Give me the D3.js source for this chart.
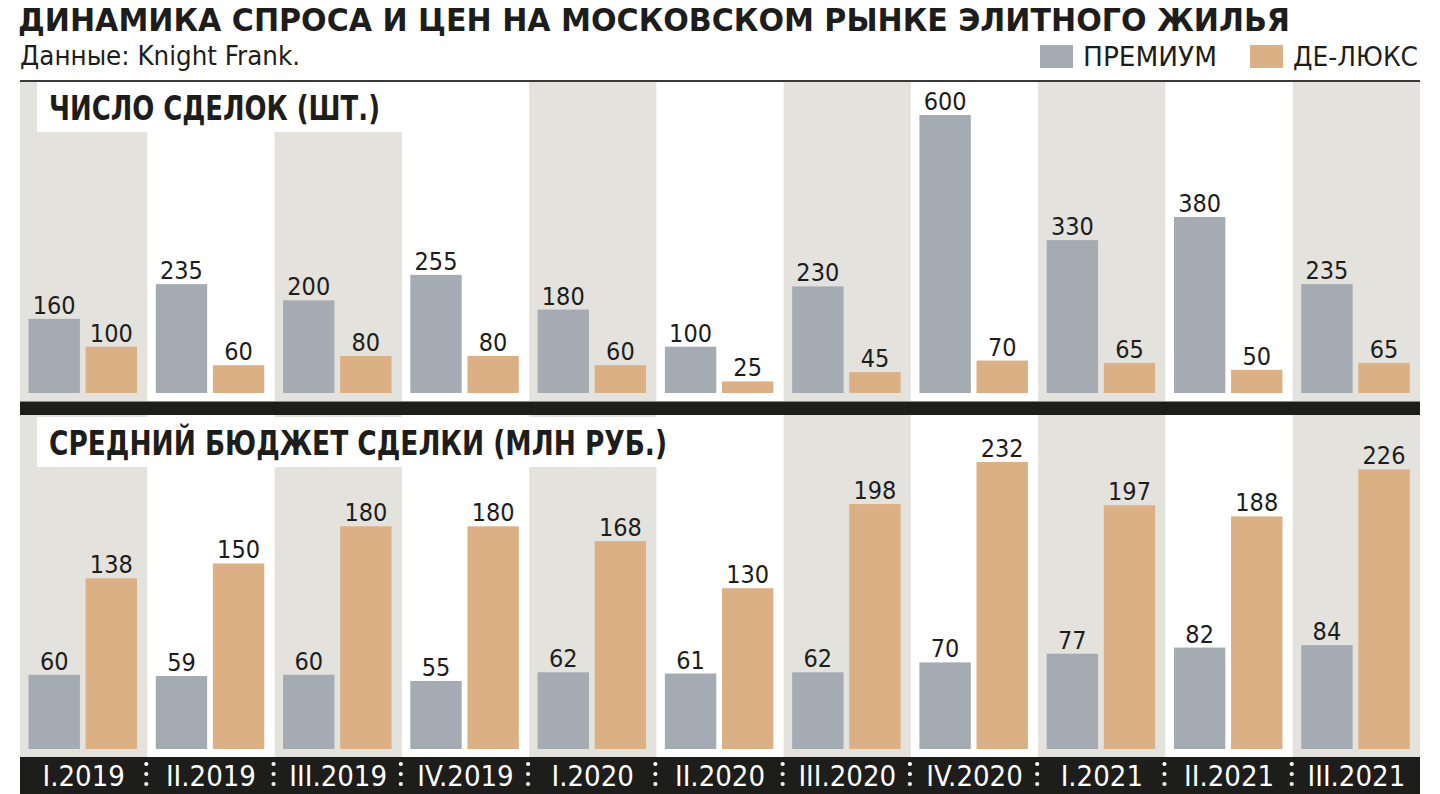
<!DOCTYPE html>
<html>
<head>
<meta charset="utf-8">
<script src="https://cdn.jsdelivr.net/npm/d3@7"></script>
<style>
  html, body { margin: 0; padding: 0; background: #ffffff; }
  svg { display: block; }
</style>
</head>
<body>
<svg id="chart" width="1440" height="794"></svg>
<script>
// ---- data ----
const quarters = ["I.2019", "II.2019", "III.2019", "IV.2019", "I.2020", "II.2020", "III.2020", "IV.2020", "I.2021", "II.2021", "III.2021"];
const seriesNames = ["ПРЕМИУМ", "ДЕ-ЛЮКС"];
const dealsPremium = [160, 235, 200, 255, 180, 100, 230, 600, 330, 380, 235];
const dealsDeluxe  = [100, 60, 80, 80, 60, 25, 45, 70, 65, 50, 65];
const budgetPremium = [60, 59, 60, 55, 62, 61, 62, 70, 77, 82, 84];
const budgetDeluxe  = [138, 150, 180, 180, 168, 130, 198, 232, 197, 188, 226];
const titleText = "ДИНАМИКА СПРОСА И ЦЕН НА МОСКОВСКОМ РЫНКЕ ЭЛИТНОГО ЖИЛЬЯ";
const sourceText = "Данные: Knight Frank.";
const panelTitles = ["ЧИСЛО СДЕЛОК (ШТ.)", "СРЕДНИЙ БЮДЖЕТ СДЕЛКИ (МЛН РУБ.)"];

// ---- style ----
const C = {
  band: "#e3e2dd", premium: "#a4abb2", deluxe: "#dbb084",
  ink: "#1d1d1b", black: "#1d1d1b", rule: "#3a3a38"
};
const seriesColors = [C.premium, C.deluxe];
const condensed = "'DejaVu Sans Condensed', 'Liberation Sans Narrow', sans-serif";
const narrowBold = "'Liberation Sans Narrow', 'DejaVu Sans Condensed', sans-serif";

const svg = d3.select("#chart");
const L = 20, R = 1420;

const x = d3.scaleBand().domain(quarters).range([L, R]).paddingInner(0).paddingOuter(0);
const xs = d3.scaleBand().domain(seriesNames).range([8.5, 117]).paddingInner(0.1).paddingOuter(0);

const panels = [
  { top: 82, bottom: 402, base: 393, max: 600, maxY: 115, data: [dealsPremium, dealsDeluxe],
    title: panelTitles[0], box: { x: 37, y: 82, w: 365, h: 50 }, ty: 120, tlen: 331 },
  { top: 415, bottom: 757, base: 749, max: 232, maxY: 462, data: [budgetPremium, budgetDeluxe],
    title: panelTitles[1], box: { x: 37, y: 417, w: 660, h: 50 }, ty: 455, tlen: 618 }
];

panels.forEach(p => {
  const y = d3.scaleLinear().domain([0, p.max]).range([p.base, p.maxY]);
  const g = svg.append("g");
  // alternating bands
  g.selectAll("rect.band").data(quarters.filter((q, i) => i % 2 === 0)).join("rect")
    .attr("class", "band")
    .attr("x", d => x(d)).attr("y", p.top)
    .attr("width", x.bandwidth()).attr("height", p.bottom - p.top)
    .attr("fill", C.band);
  // label box
  g.append("rect").attr("x", p.box.x).attr("y", p.box.y).attr("width", p.box.w).attr("height", p.box.h).attr("fill", "#fff");
  g.append("text").attr("x", 49).attr("y", p.ty)
    .attr("font-family", narrowBold).attr("font-weight", "bold").attr("font-size", 33)
    .attr("fill", C.ink).attr("textLength", p.tlen).attr("lengthAdjust", "spacingAndGlyphs")
    .text(p.title);
  // bars
  seriesNames.forEach((s, si) => {
    const vals = p.data[si];
    const rows = quarters.map((q, i) => ({ q, v: vals[i] }));
    g.selectAll("rect.bar" + si).data(rows).join("rect")
      .attr("class", "bar" + si)
      .attr("x", d => x(d.q) + xs(s)).attr("width", xs.bandwidth())
      .attr("y", d => y(d.v)).attr("height", d => y(0) - y(d.v))
      .attr("fill", seriesColors[si]);
    g.selectAll("text.val" + si).data(rows).join("text")
      .attr("class", "val" + si)
      .attr("x", d => x(d.q) + xs(s) + xs.bandwidth() / 2)
      .attr("y", d => y(d.v) - 5)
      .attr("text-anchor", "middle")
      .attr("font-family", condensed).attr("font-size", 25)
      .attr("fill", C.ink)
      .text(d => d.v);
  });
});

// top rule
svg.append("line").attr("x1", L).attr("x2", R).attr("y1", 81).attr("y2", 81)
  .attr("stroke", C.rule).attr("stroke-width", 2);
// separator
svg.append("rect").attr("x", L).attr("y", 402).attr("width", R - L).attr("height", 13).attr("fill", C.black);
svg.append("line").attr("x1", L).attr("x2", R).attr("y1", 401.5).attr("y2", 401.5).attr("stroke", "#8a8a88").attr("stroke-width", 1);
// bottom axis bar
svg.append("rect").attr("x", L).attr("y", 757).attr("width", R - L).attr("height", 37).attr("fill", C.black);

const axis = svg.append("g").attr("transform", "translate(0,757)")
  .call(d3.axisBottom(x).tickSize(0).tickPadding(0));
axis.select(".domain").remove();
axis.selectAll("text")
  .attr("y", 29).attr("dy", 0)
  .attr("fill", "#ffffff")
  .attr("font-family", condensed).attr("font-size", 29);

// dotted separators between quarters
const seps = quarters.slice(1);
const dotYs = [764, 774, 784];
seps.forEach(q => {
  svg.selectAll(null).data(dotYs).join("circle")
    .attr("cx", x(q) - 1).attr("cy", d => d).attr("r", 2.1).attr("fill", "#ffffff");
});

// title
svg.append("text").attr("x", 18).attr("y", 30.5)
  .attr("font-family", narrowBold).attr("font-weight", "bold").attr("font-size", 32.5)
  .attr("fill", C.ink).attr("textLength", 1272).attr("lengthAdjust", "spacingAndGlyphs")
  .text(titleText);
svg.append("text").attr("x", 20).attr("y", 65)
  .attr("font-family", condensed).attr("font-size", 26)
  .attr("fill", C.ink).attr("textLength", 280).attr("lengthAdjust", "spacingAndGlyphs")
  .text(sourceText);

// legend
const legend = [
  { name: seriesNames[0], color: seriesColors[0], sx: 1040, tx: 1083, tl: 134 },
  { name: seriesNames[1], color: seriesColors[1], sx: 1250, tx: 1293, tl: 125 }
];
legend.forEach(l => {
  svg.append("rect").attr("x", l.sx).attr("y", 45).attr("width", 33).attr("height", 23).attr("fill", l.color);
  svg.append("text").attr("x", l.tx).attr("y", 66)
    .attr("font-family", condensed).attr("font-size", 27).attr("fill", C.ink)
    .attr("textLength", l.tl).attr("lengthAdjust", "spacingAndGlyphs")
    .text(l.name);
});
</script>
</body>
</html>
